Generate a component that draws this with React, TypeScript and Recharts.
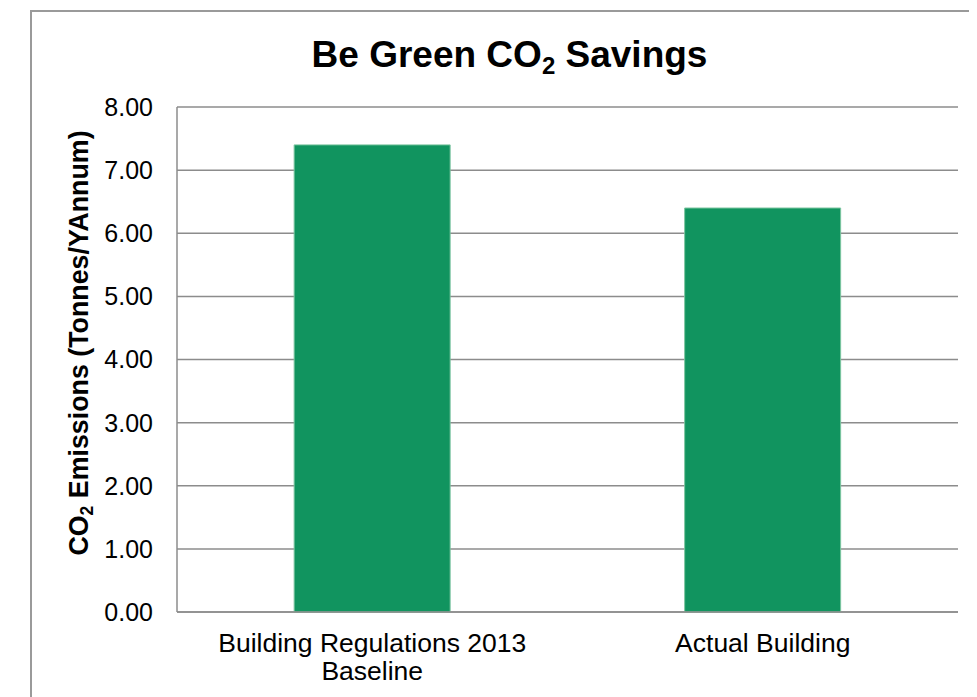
import React from "react";
import { BarChart, Bar, XAxis, YAxis, CartesianGrid } from "recharts";

const categories = ["Building Regulations 2013 Baseline", "Actual Building"];
const categoryLines = [["Building Regulations 2013", "Baseline"], ["Actual Building"]];
const emissions = [7.4, 6.4];
const yTicks = [0, 1, 2, 3, 4, 5, 6, 7, 8];

const FONT = '"Liberation Sans", Arial, Helvetica, sans-serif';
const GRID = "#8c8c8c";

const data = categories.map((name, i) => ({ name, value: emissions[i] }));

const XTick = (props: any) => {
  const { x, y, payload } = props;
  const idx = categories.indexOf(payload.value);
  const lines = idx >= 0 ? categoryLines[idx] : [String(payload.value)];
  return (
    <text x={x} y={y} textAnchor="middle" fontSize={26.5} fill="#000" fontFamily={FONT}>
      {lines.map((l, i) => (
        <tspan key={i} x={x} dy={i === 0 ? 40 : 28}>
          {l}
        </tspan>
      ))}
    </text>
  );
};

export default function App() {
  return (
    <div
      style={{
        position: "relative",
        width: 969,
        height: 689,
        overflow: "hidden",
        background: "#fff",
        fontFamily: FONT,
      }}
    >
      <div
        style={{
          position: "absolute",
          left: 22,
          top: 2,
          width: 2000,
          height: 2000,
          border: "2px solid #9a9a9a",
          boxSizing: "border-box",
        }}
      />
      <div style={{ position: "absolute", left: 0, top: 0 }}>
        <BarChart
          width={961}
          height={681}
          data={data}
          margin={{ top: 99, right: 11, left: 0, bottom: 0 }}
          barCategoryGap="30%"
        >
          <CartesianGrid vertical={false} stroke={GRID} strokeWidth={1.5} />
          <XAxis
            dataKey="name"
            height={77}
            axisLine={{ stroke: GRID, strokeWidth: 1.5 }}
            tickLine={false}
            tickSize={0}
            tickMargin={0}
            interval={0}
            tick={<XTick />}
          />
          <YAxis
            width={169}
            domain={[0, 8]}
            ticks={yTicks}
            tickFormatter={(v: number) => v.toFixed(2)}
            axisLine={{ stroke: GRID, strokeWidth: 1.5 }}
            tickLine={false}
            tickSize={0}
            tickMargin={24}
            tick={{ fontSize: 25, fill: "#000", fontFamily: FONT }}
          />
          <Bar dataKey="value" fill="#11945f" stroke="#7cc5a0" strokeWidth={1} isAnimationActive={false} />
        </BarChart>
      </div>
      <svg
        width={969}
        height={689}
        style={{ position: "absolute", left: 0, top: 0, pointerEvents: "none" }}
      >
        <text x={501.5} y={59} textAnchor="middle" fontSize={37} fontWeight="bold" fill="#000" fontFamily={FONT}>
          Be Green CO
          <tspan fontSize={24} dy={7}>2</tspan>
          <tspan dy={-7}> Savings</tspan>
        </text>
        <text
          x={0}
          y={0}
          transform="translate(80, 335) rotate(-90)"
          textAnchor="middle"
          fontSize={26.8}
          fontWeight="bold"
          fill="#000"
          fontFamily={FONT}
        >
          CO
          <tspan fontSize={17.5} dy={5}>2</tspan>
          <tspan dy={-5}> Emissions (Tonnes/YAnnum)</tspan>
        </text>
      </svg>
    </div>
  );
}
